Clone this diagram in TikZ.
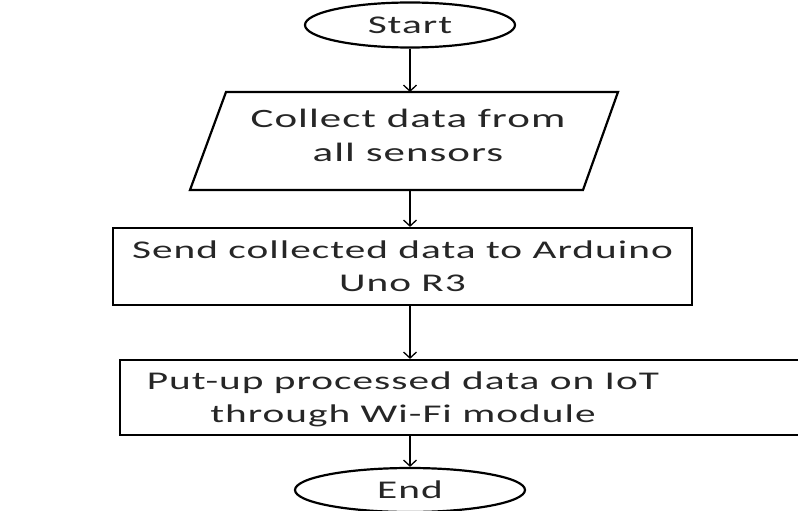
\documentclass[tikz,border=0pt]{standalone}
\usepackage{fontspec}
\setmainfont{Carlito}[FakeStretch=1.62,LetterSpace=4]
\usetikzlibrary{shapes.geometric,arrows.meta}
\begin{document}
\begin{tikzpicture}[x=1pt,y=-1pt,
  outline/.style={draw=black,line width=2.2pt},
  label/.style={text=black!85,font=\fontsize{25.5}{33}\selectfont,align=center,inner sep=0pt},
  terminal/.style={outline,label,ellipse,inner sep=0pt},
  procbox/.style={outline,label,rectangle,inner sep=0pt},
  flow/.style={draw=black,line width=1.3pt,-{Straight Barb[length=6pt,width=13pt,line width=1.3pt]}}]
\useasboundingbox (0,0) rectangle (798,511);
\fill[white] (0,0) rectangle (798,511);

% terminals
\node[terminal,minimum width=210pt,minimum height=45pt] (start) at (410,25) {Start};
\node[terminal,minimum width=230pt,minimum height=44pt] (stop) at (410,490) {End};

% input/output parallelogram
\draw[outline] (226,92) -- (618,92) -- (583,190) -- (190,190) -- cycle;
\coordinate (collect-in) at (410,92);
\coordinate (collect-out) at (410,190);
\node[label,font=\fontsize{26.5}{34}\selectfont] (collect) at (408,135) {Collect data from\\all sensors};

% process boxes
\node[procbox,minimum width=579pt,minimum height=77pt] (send) at (402.5,266.5) {Send collected data to Arduino\\Uno R3};
\node[procbox,minimum width=680pt,minimum height=75pt] (put) at (460,397.5) {};
\node[label] (puttext) at (403,399) {Put-up processed data on IoT\\through Wi-Fi module};

% connectors
\draw[flow] (start.south) -- (collect-in);
\draw[flow] (collect-out) -- (send.north -| collect-out);
\draw[flow] (send.south -| collect-out) -- (put.north -| collect-out);
\draw[flow] (put.south -| collect-out) -- (stop.north);
\end{tikzpicture}
\end{document}
